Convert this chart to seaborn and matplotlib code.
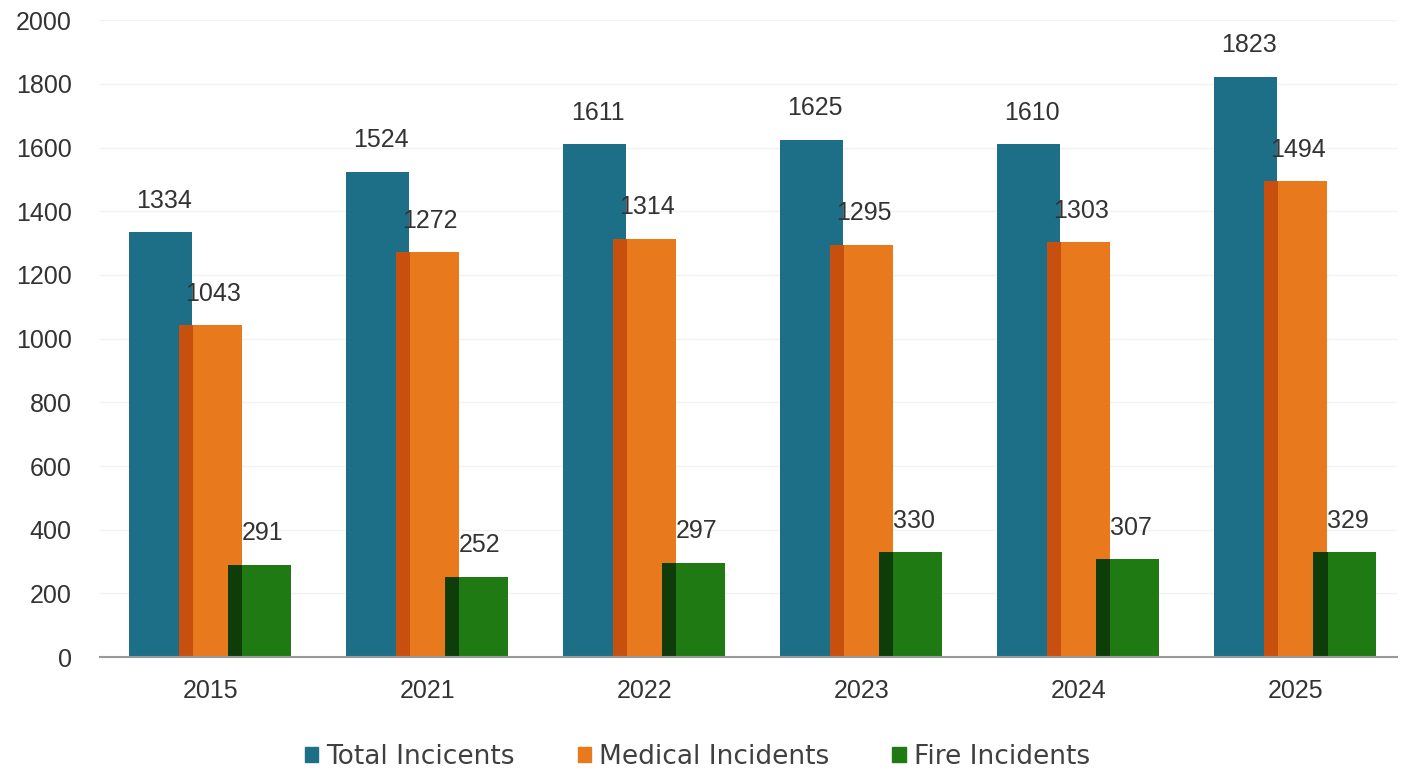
import pandas as pd
import matplotlib.pyplot as plt
import matplotlib.patches as mpatches
import seaborn as sns

# Chart data
years = ["2015", "2021", "2022", "2023", "2024", "2025"]
total_incidents = [1334, 1524, 1611, 1625, 1610, 1823]
medical_incidents = [1043, 1272, 1314, 1295, 1303, 1494]
fire_incidents = [291, 252, 297, 330, 307, 329]
series_names = ["Total Incicents", "Medical Incidents", "Fire Incidents"]

colors = ["#1c6f86", "#e8791d", "#1f7a14"]
shadow_colors = [None, "#c8500e", "#0e3d09"]

df = pd.DataFrame({
    "Year": years * 3,
    "Count": total_incidents + medical_incidents + fire_incidents,
    "Series": [s for s in series_names for _ in years],
})

sns.set_style("white")
plt.rcParams["font.family"] = ["Liberation Sans", "DejaVu Sans"]

fig = plt.figure(figsize=(14.03, 7.75), dpi=100)
ax = fig.add_axes([0.071, 0.152, 0.925, 0.822])

sns.barplot(data=df, x="Year", y="Count", hue="Series", palette=colors,
            width=0.684, ax=ax, legend=False, saturation=1)

# widen bars so neighbours overlap, add darker strip on the left
bar_w = 0.29
overlap = 0.065
n = len(years)
for i, patch in enumerate(ax.patches[:3 * n]):
    s = i // n
    cx = patch.get_x() + patch.get_width() / 2
    patch.set_x(cx - bar_w / 2)
    patch.set_width(bar_w)
    patch.set_linewidth(0)
    if shadow_colors[s]:
        ax.add_patch(mpatches.Rectangle((cx - bar_w / 2, 0), overlap, patch.get_height(),
                                        color=shadow_colors[s], lw=0, zorder=patch.get_zorder()))
    ax.annotate(f"{int(patch.get_height())}", (cx, patch.get_height()),
                xytext=(2, 14), textcoords="offset points", ha="center", va="bottom",
                fontsize=18, color="#333333")

ax.set_ylim(0, 2000)
ax.set_yticks(range(0, 2001, 200))
ax.set_xlim(-0.51, 5.47)
ax.yaxis.grid(True, color="#f3f3f3", lw=1)
ax.set_axisbelow(True)
ax.set_xlabel("")
ax.set_ylabel("")
for sp in ["top", "right", "left"]:
    ax.spines[sp].set_visible(False)
ax.spines["bottom"].set_color("#9a9a9a")
ax.spines["bottom"].set_linewidth(1.5)
ax.tick_params(axis="y", labelsize=18, labelcolor="#333333", length=0, pad=20)
ax.tick_params(axis="x", labelsize=18, labelcolor="#333333", length=0, pad=16)

handles = [mpatches.Patch(color=c, label=l) for c, l in zip(colors, series_names)]
fig.legend(handles=handles, loc="center", bbox_to_anchor=(0.497, 0.023), ncol=3,
           frameon=False, handlelength=0.5, handleheight=0.5,
           handletextpad=0.3, columnspacing=2.4, labelcolor="#404040",
           prop={"family": ["DejaVu Sans"], "size": 19})

fig.savefig("out.png", dpi=100)
